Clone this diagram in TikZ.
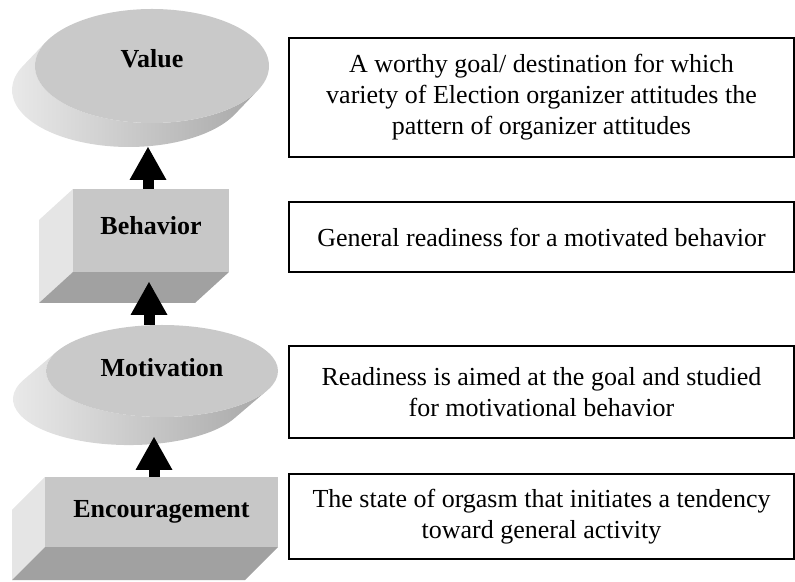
\documentclass[tikz,border=0pt]{standalone}
\usepackage{fontspec}
\setmainfont{Liberation Serif}
\usetikzlibrary{arrows.meta,shapes.geometric}
\begin{document}
\begin{tikzpicture}[x=1pt,y=1pt,
  lbl/.style={font=\bfseries\fontsize{26}{31}\selectfont},
  topface/.style={ellipse, draw=none, fill=black!21, inner sep=0pt, lbl},
  frontface/.style={rectangle, draw=none, fill=black!22, inner sep=0pt, lbl},
  sideshade/.style={left color=black!7, right color=black!34},
  leftface/.style={fill=black!10},
  bottomface/.style={fill=black!37},
  bigarrow/.style={line width=11pt, -{Triangle[width=37pt,length=33pt,line width=0pt]}},
  tbox/.style={draw, line width=1.2pt, align=center, inner sep=0pt,
    font=\fontsize{26}{31}\selectfont}]
\useasboundingbox (0,0) rectangle (795,581);

% ---- Value (extruded ellipse)
\shade[sideshade] (23.0,515.1) arc[start angle=155,end angle=335,x radius=117,y radius=57]
  -- (258.0,490.9) arc[start angle=335,end angle=155,x radius=117,y radius=57] -- cycle;
\node[topface, minimum width=234, minimum height=114] (val) at (152,515) {\raisebox{16pt}{Value}};
\coordinate (t1) at (148,434);

% ---- Behavior (extruded box)
\fill[leftface] (73,392) -- (39,361) -- (39,278) -- (73,309) -- cycle;
\fill[bottomface] (73,309) -- (229,309) -- (195,278) -- (39,278) -- cycle;
\node[frontface, minimum width=156, minimum height=83] (beh) at (151,350.5) {\raisebox{10pt}{Behavior}};
\coordinate (t2) at (149,299);

% ---- Motivation (extruded ellipse)
\shade[sideshade] (23.9,201.4) arc[start angle=155,end angle=335,x radius=116,y radius=46]
  -- (267.1,190.6) arc[start angle=335,end angle=155,x radius=116,y radius=46] -- cycle;
\node[topface, minimum width=232, minimum height=92] (mot) at (162,210) {\raisebox{8pt}{Motivation}};
\coordinate (t3) at (154,144);

% ---- Encouragement (extruded box)
\fill[leftface] (45,104) -- (12,71) -- (12,1) -- (45,34) -- cycle;
\fill[bottomface] (45,34) -- (278,34) -- (245,1) -- (12,1) -- cycle;
\node[frontface, minimum width=233, minimum height=70] (enc) at (161.5,69) {\raisebox{4pt}{Encouragement}};

% ---- arrows
\draw[bigarrow] (t1 |- beh.north) -- (t1);
\draw[bigarrow] (t2 |- mot.north) -- (t2);
\draw[bigarrow] (t3 |- enc.north) -- (t3);

% ---- descriptions
\node[tbox, minimum width=505, minimum height=119] (d1) at (541.5,483.5)
  {A worthy goal/ destination for which\\variety of Election organizer attitudes the\\pattern of organizer attitudes};
\node[tbox, minimum width=505, minimum height=70] (d2) at (541.5,344)
  {General readiness for a motivated behavior};
\node[tbox, minimum width=505, minimum height=92] (d3) at (541.5,189)
  {Readiness is aimed at the goal and studied\\for motivational behavior};
\node[tbox, minimum width=505, minimum height=85] (d4) at (541.5,64.5)
  {The state of orgasm that initiates a tendency\\toward general activity};
\end{tikzpicture}
\end{document}
